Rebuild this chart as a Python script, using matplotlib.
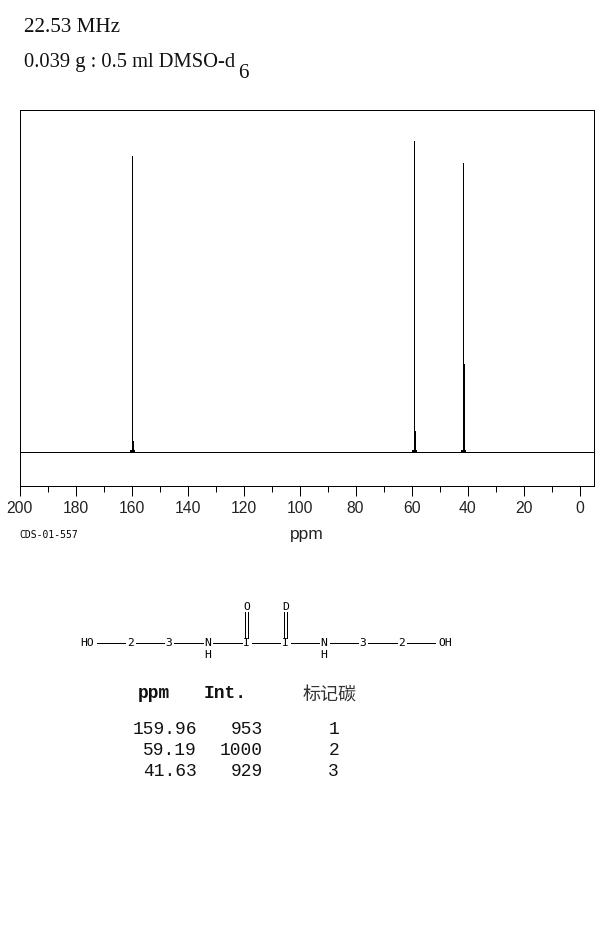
import matplotlib
matplotlib.use('Agg')
import matplotlib.pyplot as plt

# spectrum values
peak_ppm = [159.96, 59.19, 41.63]
peak_int = [953, 1000, 929]
stub_int = [36, 66, 283]
carbon_no = [1, 2, 3]
base_ppm = [200, 160.7, 160.3, 159.6, 159.2, 59.9, 59.5, 58.9, 58.5, 42.3, 41.9, 41.3, 40.9, -5]
base_int = [0, 0, 5, 5, 0, 0, 5, 5, 0, 0, 5, 5, 0, 0]

major_ticks = [200, 180, 160, 140, 120, 100, 80, 60, 40, 20, 0]
minor_ticks = [190, 170, 150, 130, 110, 90, 70, 50, 30, 10]

# molecule labels, left to right along the chain
chain_labels = ['HO', '2', '3', 'N', 'I', 'I', 'N', '3', '2', 'OH']
W, H = 609, 935
LW = 0.72

fig = plt.figure(figsize=(W / 100, H / 100), dpi=100)
ax = fig.add_axes([19.6 / W, 1 - 485.6 / H, 574 / W, 375.4 / H])
ax.set_xlim(200, -5)
ax.set_ylim(-109, 1100)

ax.plot(base_ppm, base_int, color='black', lw=LW, snap=True, antialiased=False)
ax.vlines(peak_ppm, 0, peak_int, color='black', lw=LW, antialiased=False)
ax.vlines([p - 0.35 for p in peak_ppm], 0, stub_int, color='black', lw=LW, antialiased=False)

ax.set_xticks(major_ticks)
ax.set_xticks(minor_ticks, minor=True)
ax.set_yticks([])
ax.tick_params(axis='x', which='major', length=7.5, width=LW, pad=3.5, labelsize=11.3, labelcolor='#222222')
ax.tick_params(axis='x', which='minor', length=4.3, width=LW)
for lab in ax.get_xticklabels():
    lab.set_fontfamily('Liberation Sans')
for s in ax.spines.values():
    s.set_linewidth(LW)

# overlay in image pixels for the text and the structure drawing
ov = fig.add_axes([0, 0, 1, 1])
ov.set_xlim(0, W)
ov.set_ylim(H, 0)
ov.axis('off')
ov.patch.set_alpha(0)

serif = dict(family='Liberation Serif', va='baseline', color='#111111')
ov.text(24, 32.5, '22.53 MHz', fontsize=15.2, **serif)
ov.text(24, 66.5, '0.039 g : 0.5 ml DMSO-d', fontsize=14.8, **serif)
ov.text(238.5, 78, '6', fontsize=15.2, **serif)

ov.text(307, 535, 'ppm', family='Liberation Sans', fontsize=12.5, ha='center', va='center', color='#222222')
ov.text(19.5, 535, 'CDS-01-557', family='DejaVu Sans Mono', fontsize=7, ha='left', va='center')

# structure
atom_font = dict(family='DejaVu Sans Mono', fontsize=8.2, ha='center', va='center')
chain_x = [87, 130.7, 169, 208, 246.7, 285.7, 324, 363, 402, 445]
for x, t in zip(chain_x, chain_labels):
    ov.text(x, 642.5, t, **atom_font)
for x in (208, 324):
    ov.text(x, 654.5, 'H', **atom_font)
ov.text(247, 607, 'O', **atom_font)
ov.text(286, 607, 'D', **atom_font)

bonds = [(96.7, 125), (136, 164), (174, 202.7), (213, 241.7), (252, 280),
         (291, 319), (330, 358), (368, 397), (407, 435)]
for x0, x1 in bonds:
    ov.plot([x0, x1], [642.6, 642.6], color='black', lw=LW, antialiased=False)
for x in (244.5, 247.5, 283.5, 286.5):
    ov.plot([x, x], [612, 637.5], color='black', lw=LW, antialiased=False)

# peak table
mono = dict(family='Liberation Mono', fontsize=12.9, va='center', color='#111111')
ov.text(138, 693, 'ppm', fontweight='bold', **mono)
ov.text(204, 693, 'Int.', fontweight='bold', **mono)
ov.text(330, 696, '标记碳', family=['Noto Sans CJK SC', 'DejaVu Sans'], fontsize=13,
        ha='center', va='center', color='#333333')
for y, p, i, c in zip([729.4, 750.4, 771], peak_ppm, peak_int, carbon_no):
    ov.text(197, y, f'{p:.2f}', ha='right', **mono)
    ov.text(263, y, str(i), ha='right', **mono)
    ov.text(339, y, str(c), ha='right', **mono)

fig.savefig('out.png', dpi=100)
